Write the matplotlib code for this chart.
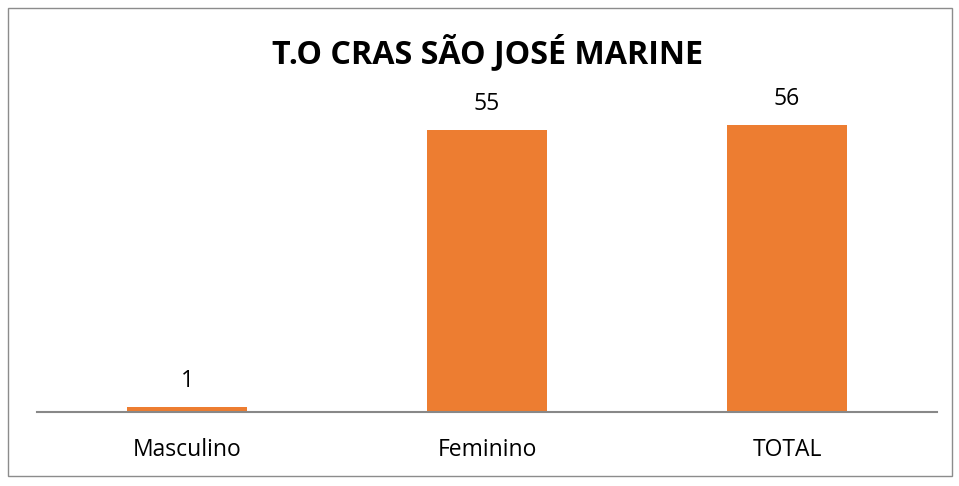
import matplotlib
matplotlib.use("Agg")
import matplotlib.pyplot as plt
from matplotlib.patches import Rectangle

categories = ["Masculino", "Feminino", "TOTAL"]
values = [1, 55, 56]
title = "T.O CRAS SÃO JOSÉ MARINE"

W, H = 959, 486
fig = plt.figure(figsize=(W/100, H/100), dpi=100)
fig.patch.set_facecolor("white")

# outer border
fig.patches.append(Rectangle((8/W, 1-476/H), (952-8)/W, (476-8)/H, transform=fig.transFigure,
                             fill=False, edgecolor="#8c8c8c", linewidth=1))

ax = fig.add_axes([37/W, 1-412/H, (937-37)/W, 308/H])
x = range(len(categories))
bars = ax.bar(x, values, width=0.4, color="#ED7D31")
ax.set_xlim(-0.5, 2.5)
ax.set_ylim(0, 60)
for s in ["top", "right", "left"]:
    ax.spines[s].set_visible(False)
ax.spines["bottom"].set_color("#888888")
ax.spines["bottom"].set_linewidth(1.5)
ax.set_yticks([])
ax.set_xticks(list(x))
ax.set_xticklabels(categories, fontsize=16.5, family="Open Sans")
ax.tick_params(axis="x", length=0, pad=19)
for xi, v in zip(x, values):
    ax.annotate(str(v), (xi, v), xytext=(0, 10), textcoords="offset points",
                ha="center", va="bottom", fontsize=16.5, family="Open Sans")

fig.text(487/W, 1-53/H, title, ha="center", va="center", fontsize=23.2,
         fontweight="bold", family="Open Sans")

fig.savefig("out.png", dpi=100)
